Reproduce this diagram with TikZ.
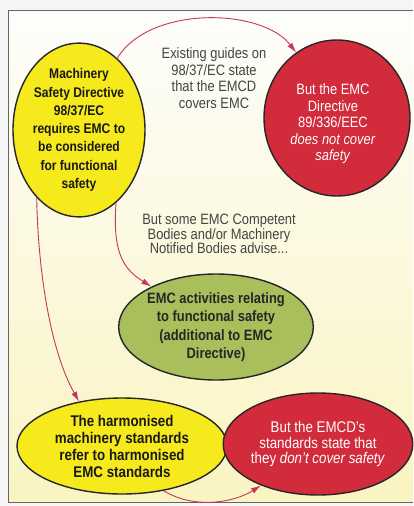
\documentclass[tikz,border=0pt]{standalone}
\usepackage{fontspec}
\setmainfont{Liberation Sans}[FakeStretch=0.86]
\usetikzlibrary{shapes.geometric,arrows.meta}
\definecolor{bubyellow}{HTML}{F6EA1C}
\definecolor{bubred}{HTML}{D22B3C}
\definecolor{bubgreen}{HTML}{A9BF5C}
\definecolor{linkred}{HTML}{C33660}
\definecolor{inktext}{HTML}{444444}
\definecolor{pagetop}{HTML}{FDFDFB}
\definecolor{pagebot}{HTML}{FAF4C2}
\tikzset{
  bubble/.style={ellipse, draw=black!85, line width=1.4pt, inner sep=0pt, align=center},
  ybub/.style={bubble, fill=bubyellow, text=black!90, font=\bfseries\fontsize{14}{18.3}\selectfont},
  gbub/.style={bubble, fill=bubgreen, text=black!85, font=\bfseries\fontsize{15}{18.5}\selectfont},
  rbub/.style={bubble, fill=bubred, text=white, font=\fontsize{15}{16.5}\selectfont},
  note/.style={align=center, text=inktext, font=\fontsize{15}{16.5}\selectfont},
  link/.style={draw=linkred, line width=0.9pt, -{Latex[length=10pt,width=6pt]}}
}
\begin{document}
\begin{tikzpicture}[x=1pt,y=-1pt]
\useasboundingbox (0,0) rectangle (413,506);
\fill[black!4] (0,0) rectangle (413,506);
\shade[top color=pagetop, bottom color=pagebot] (8,10) rectangle (413,502);
\draw[black!60, line width=1pt] (413,10) -- (8,10) -- (8,502) -- (413,502);

% top row
\node[ybub, minimum width=132pt, minimum height=144pt] (mach) at (79,130)
  {Machinery\\Safety Directive\\98/37/EC\\requires EMC to\\be considered\\for functional\\safety};
\node[rbub, minimum width=146pt, minimum height=156pt] (emc) at (337,118) {};
\node[rbub, draw=none, fill=none] (emctxt) at (333,124)
  {But the EMC\\Directive\\89/336/EEC\\\textit{does not cover}\\\textit{safety}};
\node[note] (guides) at (214,78) {Existing guides on\\98/37/EC state\\that the EMCD\\covers EMC};

% middle
\node[note, font=\fontsize{15}{14.8}\selectfont] (advise) at (219,234) {But some EMC Competent\\Bodies and/or Machinery\\Notified Bodies advise...};
\node[gbub, minimum width=176pt, minimum height=106pt] (act) at (216,327)
  {EMC activities relating\\to functional safety\\(additional to EMC\\Directive)};

% bottom row
\node[ybub, font=\bfseries\fontsize{15.5}{17}\selectfont, minimum width=210pt, minimum height=96pt] (harm) at (122,446)
  {The harmonised\\machinery standards\\refer to harmonised\\EMC standards};
\node[rbub, font=\fontsize{15.5}{15.5}\selectfont, minimum width=182pt, minimum height=102pt] (std) at (318,444)
  {But the EMCD's\\standards state that\\they \textit{don't cover safety}};

\draw[link] (mach.62) .. controls (150,5) and (262,8) .. (emc.122);
\draw[link] (mach.-63) .. controls (112,255) and (125,270) .. (act.148);
\draw[link] (mach.-122) .. controls (38,270) and (50,350) .. (harm.134);
\draw[link] (harm.-47) .. controls (195,510) and (235,502) .. (std.216);

\end{tikzpicture}
\end{document}
